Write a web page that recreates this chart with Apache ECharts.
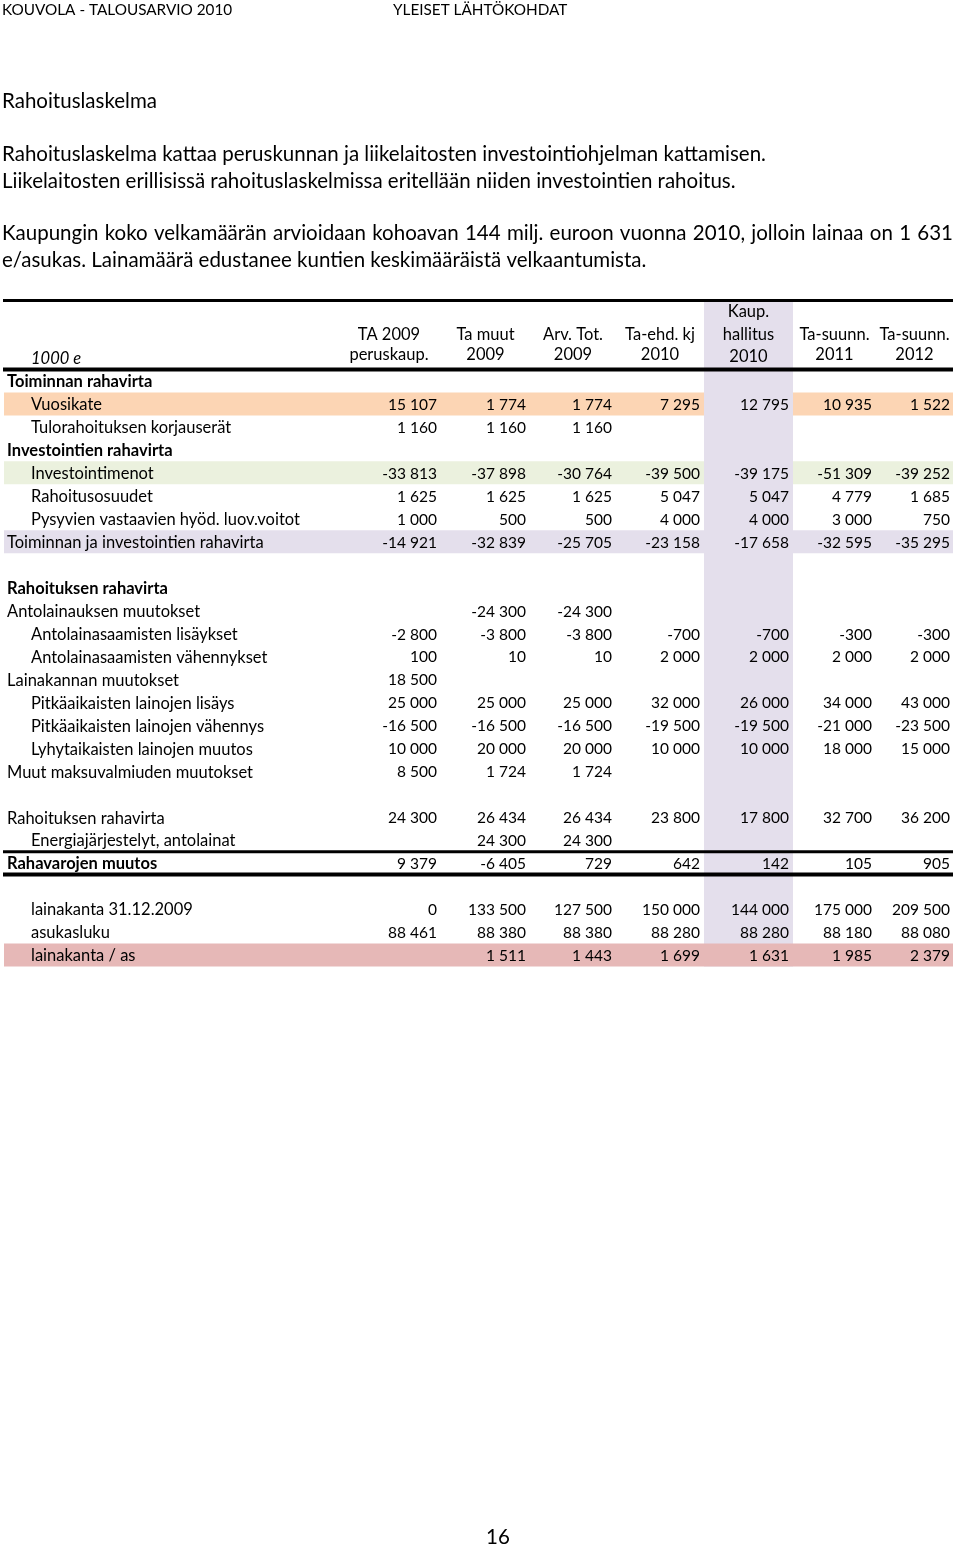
<!DOCTYPE html>
<html>
<head>
<meta charset="utf-8">
<title>Rahoituslaskelma</title>
<script src="https://cdn.jsdelivr.net/npm/echarts@6/dist/echarts.min.js"></script>
<style>
  html, body { margin: 0; padding: 0; background: #fff; }
  #chart { width: 960px; height: 1547px; }
</style>
</head>
<body>
<div id="chart"></div>
<script>
// ---- data ----
const headerTop = ['', '', '', '', 'Kaup.', '', ''];
const headerMid = ['TA 2009', 'Ta muut', 'Arv. Tot.', 'Ta-ehd. kj', 'hallitus', 'Ta-suunn.', 'Ta-suunn.'];
const headerBottom = ['peruskaup.', '2009', '2009', '2010', '2010', '2011', '2012'];
const unitLabel = '1000 e';

const rowLabels = [
  'Toiminnan rahavirta', 'Vuosikate', 'Tulorahoituksen korjauserät', 'Investointien rahavirta',
  'Investointimenot', 'Rahoitusosuudet', 'Pysyvien vastaavien hyöd. luov.voitot',
  'Toiminnan ja investointien rahavirta', '', 'Rahoituksen rahavirta', 'Antolainauksen muutokset',
  'Antolainasaamisten lisäykset', 'Antolainasaamisten vähennykset', 'Lainakannan muutokset',
  'Pitkäaikaisten lainojen lisäys', 'Pitkäaikaisten lainojen vähennys', 'Lyhytaikaisten lainojen muutos',
  'Muut maksuvalmiuden muutokset', '', 'Rahoituksen rahavirta', 'Energiajärjestelyt, antolainat',
  'Rahavarojen muutos', '', 'lainakanta 31.12.2009', 'asukasluku', 'lainakanta / as'
];

const ta2009 =           [null, 15107, 1160, null, -33813, 1625, 1000, -14921, null, null, null,   -2800, 100,  18500, 25000, -16500, 10000, 8500, null, 24300, null,  9379, null, 0,      88461, null];
const taMuut2009 =       [null, 1774,  1160, null, -37898, 1625, 500,  -32839, null, null, -24300, -3800, 10,   null,  25000, -16500, 20000, 1724, null, 26434, 24300, -6405, null, 133500, 88380, 1511];
const arvTot2009 =       [null, 1774,  1160, null, -30764, 1625, 500,  -25705, null, null, -24300, -3800, 10,   null,  25000, -16500, 20000, 1724, null, 26434, 24300, 729,   null, 127500, 88380, 1443];
const taEhd2010 =        [null, 7295,  null, null, -39500, 5047, 4000, -23158, null, null, null,   -700,  2000, null,  32000, -19500, 10000, null, null, 23800, null,  642,   null, 150000, 88280, 1699];
const kaupHallitus2010 = [null, 12795, null, null, -39175, 5047, 4000, -17658, null, null, null,   -700,  2000, null,  26000, -19500, 10000, null, null, 17800, null,  142,   null, 144000, 88280, 1631];
const taSuunn2011 =      [null, 10935, null, null, -51309, 4779, 3000, -32595, null, null, null,   -300,  2000, null,  34000, -21000, 18000, null, null, 32700, null,  105,   null, 175000, 88180, 1985];
const taSuunn2012 =      [null, 1522,  null, null, -39252, 1685, 750,  -35295, null, null, null,   -300,  2000, null,  43000, -23500, 15000, null, null, 36200, null,  905,   null, 209500, 88080, 2379];

const columnValues = [ta2009, taMuut2009, arvTot2009, taEhd2010, kaupHallitus2010, taSuunn2011, taSuunn2012];

// ---- layout / style ----
const colWidths = [334, 104, 89, 86, 88, 89, 83, 77];   // label column + 7 numeric columns
const colEdges = colWidths.reduce((a, w) => (a.push(a[a.length - 1] + w), a), [0]);
const headerRows = 3;
const boldRows = [0, 3, 9, 21];
const indentedRows = [1, 2, 4, 5, 6, 11, 12, 14, 15, 16, 20, 23, 24, 25];
const rowBands = [[1, '#fcd5b4'], [4, '#ebf1de'], [7, '#e4dfec']];
const lastBand = [25, '#e6b8b7'];
const highlightCol = 4;
const highlightColor = '#e4dfec';
const rules = [[0, 3], [headerRows, 4], [headerRows + 21, 3], [headerRows + 22, 4]];

const FONT = 'Lato, "Open Sans", sans-serif';
const labelSize = 16.5;
const numberSize = 15.5;
const textSize = 20.5;
const textShift = 1;   // Lato sits a little high with middle alignment

function fmt(v) {
  if (v == null) return '';
  const s = String(Math.abs(v)).replace(/\B(?=(\d{3})+(?!\d))/g, ' ');
  return (v < 0 ? '-' : '') + s;
}

const yCats = [];
for (let i = 0; i < headerRows + rowLabels.length; i++) yCats.push('r' + i);

function bandTop(api, r) {
  return api.coord([0, r])[1] - api.size([0, 1])[1] / 2;
}

// cells: [col, row]  col 0 = labels, 1..7 = numeric
const cellData = [];
for (let c = 0; c < 7; c++) {
  cellData.push([c + 1, 0], [c + 1, 1], [c + 1, 2]);
}
cellData.push([0, 2]);
rowLabels.forEach((lab, r) => {
  if (lab) cellData.push([0, r + headerRows]);
  columnValues.forEach((vals, c) => {
    if (vals[r] != null) cellData.push([c + 1, r + headerRows]);
  });
});

function cellText(col, row) {
  if (row < headerRows) {
    if (col === 0) return row === 2 ? unitLabel : '';
    return [headerTop, headerMid, headerBottom][row][col - 1];
  }
  const r = row - headerRows;
  if (col === 0) return rowLabels[r];
  return fmt(columnValues[col - 1][r]);
}

function renderCell(params, api) {
  const col = api.value(0), row = api.value(1);
  const text = cellText(col, row);
  if (!text) return;
  let y = api.coord([0, row])[1] + textShift;
  let x, align = 'right', size = labelSize;
  let weight = 'normal', fstyle = 'normal';
  if (row < headerRows) {
    if (col === 0) {
      x = api.coord([28, row])[0];
      align = 'left';
      fstyle = 'italic';
    } else {
      x = api.coord([(colEdges[col] + colEdges[col + 1]) / 2, row])[0];
      align = 'center';
      if (row === 2) y -= (col === 5 ? 2 : 4);
      else y -= 1;
    }
  } else {
    const r = row - headerRows;
    if (col === 0) {
      x = api.coord([indentedRows.indexOf(r) >= 0 ? 28 : 4, row])[0];
      align = 'left';
      if (boldRows.indexOf(r) >= 0) weight = 'bold';
    } else {
      x = api.coord([colEdges[col + 1] - (col === 7 ? 3 : 4), row])[0];
      size = numberSize;
    }
  }
  return {
    type: 'text',
    style: {
      text: text, x: x, y: y, align: align, verticalAlign: 'middle',
      fill: '#000', fontFamily: FONT, fontSize: size, fontWeight: weight, fontStyle: fstyle
    }
  };
}

const bandItems = rowBands.map(b => [b[0] + headerRows]);
const bandColors = rowBands.map(b => b[1]);

function renderBand(params, api) {
  const row = api.value(0);
  const top = bandTop(api, row);
  const h = api.size([0, 1])[1];
  const x0 = api.coord([1, row])[0], x1 = api.coord([colEdges[colEdges.length - 1], row])[0];
  return { type: 'rect', shape: { x: x0, y: top, width: x1 - x0, height: h }, style: { fill: bandColors[params.dataIndex] } };
}

function renderColumn(params, api) {
  const top = bandTop(api, 0);
  const bottom = bandTop(api, yCats.length - 1) + api.size([0, 1])[1];
  const x0 = api.coord([colEdges[highlightCol + 1], 0])[0];
  const x1 = api.coord([colEdges[highlightCol + 2], 0])[0];
  return { type: 'rect', shape: { x: x0, y: top, width: x1 - x0, height: bottom - top }, style: { fill: highlightColor } };
}

function renderLastBand(params, api) {
  const row = lastBand[0] + headerRows;
  const top = bandTop(api, row);
  const h = api.size([0, 1])[1];
  const x0 = api.coord([1, row])[0], x1 = api.coord([colEdges[colEdges.length - 1], row])[0];
  return { type: 'rect', shape: { x: x0, y: top, width: x1 - x0, height: h }, style: { fill: lastBand[1] } };
}

function renderRule(params, api) {
  const b = api.value(0), w = api.value(1);
  const y = bandTop(api, b);
  const x0 = api.coord([0, 0])[0], x1 = api.coord([colEdges[colEdges.length - 1], 0])[0];
  return { type: 'rect', shape: { x: x0, y: y - w / 2, width: x1 - x0, height: w }, style: { fill: '#000' } };
}

// ---- page text ----
const measureCtx = document.createElement('canvas').getContext('2d');
function justified(line, y, left, right, font) {
  measureCtx.font = font;
  const words = line.split(' ');
  const widths = words.map(w => measureCtx.measureText(w).width);
  const total = widths.reduce((a, b) => a + b, 0);
  const gap = (right - left - total) / (words.length - 1);
  const out = [];
  let x = left;
  words.forEach((w, i) => {
    out.push({ type: 'text', x: x, y: y + textShift, style: { text: w, font: font, fill: '#000', verticalAlign: 'middle' } });
    x += widths[i] + gap;
  });
  return out;
}
function plain(text, x, y, font) {
  return { type: 'text', x: x, y: y + textShift, style: { text: text, font: font, fill: '#000', verticalAlign: 'middle' } };
}
const bodyFont = textSize + 'px ' + FONT;
const headFont = '15.3px ' + FONT;
const pageGraphic = [
  plain('KOUVOLA - TALOUSARVIO 2010', 2, 9, headFont),
  plain('YLEISET LÄHTÖKOHDAT', 393, 9, headFont),
  plain('Rahoituslaskelma', 2, 100, bodyFont),
  plain('Rahoituslaskelma kattaa peruskunnan ja liikelaitosten investointiohjelman kattamisen.', 2, 153, bodyFont),
  plain('Liikelaitosten erillisissä rahoituslaskelmissa eritellään niiden investointien rahoitus.', 2, 180, bodyFont),
  ...justified('Kaupungin koko velkamäärän arvioidaan kohoavan 144 milj. euroon vuonna 2010, jolloin lainaa on 1 631', 232, 2, 953, bodyFont),
  plain('e/asukas. Lainamäärä edustanee kuntien keskimääräistä velkaantumista.', 2, 259, bodyFont),
  plain('16', 486, 1536, bodyFont)
];

const chart = echarts.init(document.getElementById('chart'), null, { renderer: 'canvas' });
chart.setOption({
  animation: false,
  backgroundColor: '#fff',
  grid: { left: 3, right: 7, top: 300.6, bottom: 580.56 },
  xAxis: { type: 'value', min: 0, max: colEdges[colEdges.length - 1], show: false },
  yAxis: { type: 'category', data: yCats, inverse: true, show: false },
  graphic: pageGraphic,
  series: [
    { type: 'custom', name: 'bands', renderItem: renderBand, data: bandItems, silent: true },
    { type: 'custom', name: 'column', renderItem: renderColumn, data: [[0]], silent: true },
    { type: 'custom', name: 'lastBand', renderItem: renderLastBand, data: [[0]], silent: true },
    { type: 'custom', name: 'rules', renderItem: renderRule, data: rules, silent: true },
    { type: 'custom', name: 'cells', renderItem: renderCell, data: cellData, silent: true }
  ]
});
</script>
</body>
</html>
